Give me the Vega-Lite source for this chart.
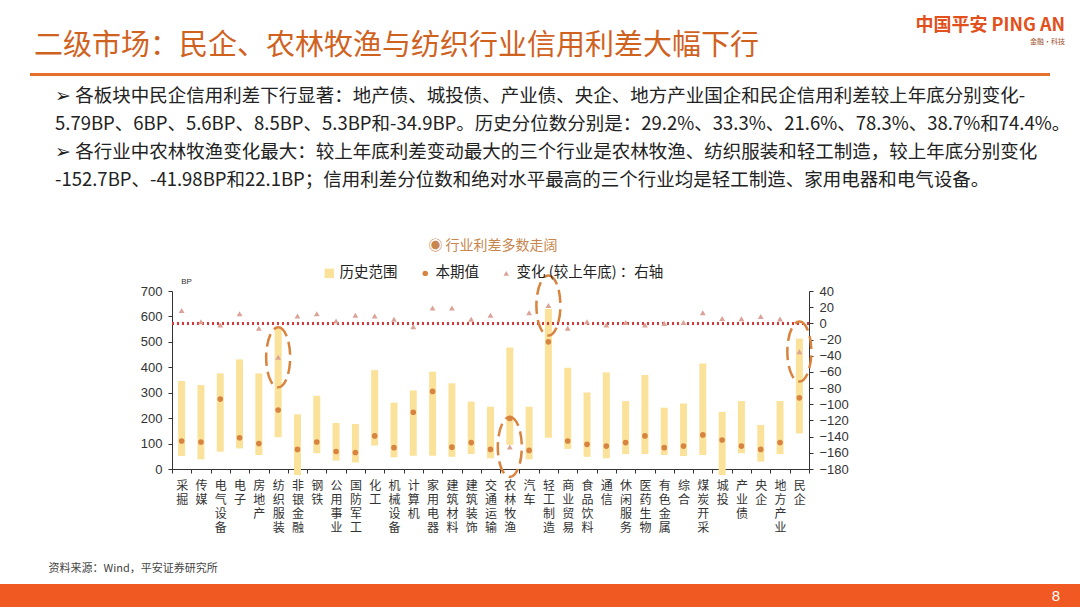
{
  "$schema": "https://vega.github.io/schema/vega-lite/v6.json",
  "padding": {"top": 17, "left": 0, "right": 0, "bottom": 0},
  "spacing": 11,
  "config": {
    "view": {"stroke": null}, "font": "Noto Sans CJK SC", "concat": {"spacing": 0},
    "axis": {"labelOverlap": false, "labelSeparation": 0},
    "axisY": {"labelOverlap": false, "labelSeparation": 0},
    "axisQuantitative": {"labelOverlap": false}
  },
  "datasets": {
    "spreads": [
      {"cat": "采掘", "low": 51, "high": 346, "cur": 110, "chg": 16, "highlight": false},
      {"cat": "传媒", "low": 38, "high": 330, "cur": 106, "chg": 2, "highlight": false},
      {"cat": "电气设备", "low": 68, "high": 376, "cur": 275, "chg": -2, "highlight": false},
      {"cat": "电子", "low": 81, "high": 431, "cur": 123, "chg": 12, "highlight": false},
      {"cat": "房地产", "low": 55, "high": 376, "cur": 100, "chg": -6, "highlight": false},
      {"cat": "纺织服装", "low": 125, "high": 553, "cur": 232, "chg": -41.98, "highlight": true},
      {"cat": "非银金融", "low": -24, "high": 215, "cur": 77, "chg": 9, "highlight": false},
      {"cat": "钢铁", "low": 62, "high": 288, "cur": 106, "chg": 12, "highlight": false},
      {"cat": "公用事业", "low": 33, "high": 181, "cur": 69, "chg": 3, "highlight": false},
      {"cat": "国防军工", "low": 26, "high": 177, "cur": 65, "chg": 10, "highlight": false},
      {"cat": "化工", "low": 92, "high": 389, "cur": 130, "chg": 9, "highlight": false},
      {"cat": "机械设备", "low": 46, "high": 261, "cur": 84, "chg": 5, "highlight": false},
      {"cat": "计算机", "low": 52, "high": 309, "cur": 223, "chg": -4, "highlight": false},
      {"cat": "家用电器", "low": 52, "high": 383, "cur": 305, "chg": 19, "highlight": false},
      {"cat": "建筑材料", "low": 48, "high": 337, "cur": 86, "chg": 19, "highlight": false},
      {"cat": "建筑装饰", "low": 59, "high": 265, "cur": 104, "chg": 5, "highlight": false},
      {"cat": "交通运输", "low": 42, "high": 245, "cur": 77, "chg": 10, "highlight": false},
      {"cat": "农林牧渔", "low": 95, "high": 478, "cur": 199, "chg": -152.7, "highlight": true},
      {"cat": "汽车", "low": 38, "high": 245, "cur": 73, "chg": 13, "highlight": false},
      {"cat": "轻工制造", "low": 123, "high": 629, "cur": 500, "chg": 22.1, "highlight": true},
      {"cat": "商业贸易", "low": 79, "high": 398, "cur": 110, "chg": -6, "highlight": false},
      {"cat": "食品饮料", "low": 48, "high": 301, "cur": 97, "chg": 2, "highlight": false},
      {"cat": "通信", "low": 42, "high": 380, "cur": 90, "chg": -2, "highlight": false},
      {"cat": "休闲服务", "low": 59, "high": 267, "cur": 104, "chg": 1, "highlight": false},
      {"cat": "医药生物", "low": 59, "high": 370, "cur": 130, "chg": -2, "highlight": false},
      {"cat": "有色金属", "low": 55, "high": 241, "cur": 84, "chg": 0, "highlight": false},
      {"cat": "综合", "low": 51, "high": 258, "cur": 90, "chg": 1, "highlight": false},
      {"cat": "煤炭开采", "low": 55, "high": 415, "cur": 134, "chg": 13, "highlight": false},
      {"cat": "城投", "low": -24, "high": 225, "cur": 114, "chg": 6, "highlight": false},
      {"cat": "产业债", "low": 62, "high": 267, "cur": 90, "chg": 5.6, "highlight": false},
      {"cat": "央企", "low": 29, "high": 173, "cur": 77, "chg": 8.5, "highlight": false},
      {"cat": "地方产业", "low": 59, "high": 267, "cur": 104, "chg": 5.3, "highlight": false},
      {"cat": "民企", "low": 140, "high": 513, "cur": 280, "chg": -34.9, "highlight": true}
    ]
  },
  "vconcat": [
    {
      "spacing": 0,
      "hconcat": [
        {"width": 30, "height": 3, "data": {"values": []}, "mark": "point", "encoding": {}},
        {
          "width": 870, "height": 3,
          "view": {"fill": "#e4702c"},
          "title": {"text": "二级市场：民企、农林牧渔与纺织行业信用利差大幅下行", "anchor": "start", "fontSize": 29, "fontWeight": "normal", "color": "#d0621f", "offset": 12, "dx": 4},
          "data": {"values": []}, "mark": "point", "encoding": {}
        },
        {
          "width": 150, "height": 3,
          "view": {"fill": "#e4702c"},
          "title": {"text": "中国平安 PING AN", "subtitle": "金融·科技", "anchor": "end", "fontSize": 18, "fontWeight": "bold", "color": "#e2501c", "subtitleFontSize": 7, "subtitleColor": "#a0522d", "subtitlePadding": 3, "offset": 28, "dx": 15},
          "data": {"values": []}, "mark": "point", "encoding": {}
        }
      ]
    },
    {
      "spacing": 0,
      "title": {
        "text": [
          "➢ 各板块中民企信用利差下行显著：地产债、城投债、产业债、央企、地方产业国企和民企信用利差较上年底分别变化-",
          "　5.79BP、6BP、5.6BP、8.5BP、5.3BP和-34.9BP。历史分位数分别是：29.2%、33.3%、21.6%、78.3%、38.7%和74.4%。",
          "➢ 各行业中农林牧渔变化最大：较上年底利差变动最大的三个行业是农林牧渔、纺织服装和轻工制造，较上年底分别变化",
          "　-152.7BP、-41.98BP和22.1BP；信用利差分位数和绝对水平最高的三个行业均是轻工制造、家用电器和电气设备。"
        ],
        "anchor": "start", "frame": "group", "fontSize": 18.5, "fontWeight": "normal", "color": "#222222", "lineHeight": 28, "dx": 55, "offset": 80.5
      },
      "hconcat": [
        {"width": 48, "height": 3, "data": {"values": []}, "mark": "point", "encoding": {}},
        {
          "width": 637, "height": 178,
          "data": {"name": "spreads"},
          "layer": [
            {
              "layer": [
                {
                  "mark": {"type": "bar", "width": 7},
                  "encoding": {
                    "x": {
                      "field": "cat", "type": "nominal", "sort": null,
                      "scale": {"paddingInner": 0, "paddingOuter": 0},
                      "axis": {
                        "title": "资料来源：Wind，平安证券研究所", "titleX": -124, "titleY": 99, "titleAlign": "left", "titleBaseline": "middle",
                        "titleFontSize": 11, "titleColor": "#444444", "titleFontWeight": "normal",
                        "labelAngle": 0, "labelExpr": "split(datum.label, '')", "labelFontSize": 12, "labelLineHeight": 14,
                        "labelColor": "#333333", "labelBaseline": "top", "labelPadding": 7, "labelOverlap": false,
                        "tickBand": "extent", "tickSize": 4, "tickColor": "#333333", "domainColor": "#333333"
                      }
                    },
                    "y": {
                      "field": "high", "type": "quantitative",
                      "scale": {"domain": [0, 700], "nice": false},
                      "axis": {
                        "title": "BP", "titleAngle": 0, "titleX": 14, "titleY": -6, "titleFontSize": 8, "titleFont": "Liberation Sans",
                        "titleFontWeight": "normal", "titleColor": "#333333", "titleAlign": "center", "titleBaseline": "bottom",
                        "values": [0, 100, 200, 300, 400, 500, 600, 700], "labelOverlap": false,
                        "labelFont": "Liberation Sans", "labelFontSize": 13, "labelColor": "#333333", "labelPadding": 6,
                        "tickSize": 4, "tickColor": "#333333", "domainColor": "#333333", "grid": false
                      }
                    },
                    "y2": {"field": "low"},
                    "color": {
                      "datum": "历史范围", "type": "nominal",
                      "scale": {"domain": ["历史范围", "本期值", "变化 (较上年底) ：右轴"], "range": ["#fbe29b", "#d6843f", "#dba398"]},
                      "legend": {
                        "orient": "none", "legendX": 322, "legendY": 166, "direction": "horizontal",
                        "title": "◉  行业利差多数走阔", "titleOrient": "top", "titleAnchor": "middle", "titleFontSize": 14,
                        "titleColor": "#c8864e", "titleFontWeight": "normal", "titlePadding": 13,
                        "labelFontSize": 14.5, "labelColor": "#222222", "labelOffset": 3, "columnPadding": 20,
                        "encode": {
                          "symbols": {
                            "update": {
                              "shape": {"signal": "datum.value === '历史范围' ? 'square' : datum.value === '本期值' ? 'circle' : 'triangle-up'"},
                              "size": {"signal": "datum.value === '历史范围' ? 90 : 30"}
                            }
                          }
                        }
                      }
                    }
                  }
                },
                {
                  "mark": {"type": "point", "filled": true, "size": 32, "opacity": 1},
                  "encoding": {
                    "x": {"field": "cat", "type": "nominal", "sort": null},
                    "y": {
                      "field": "cur", "type": "quantitative",
                      "axis": {
                        "title": "BP", "titleAngle": 0, "titleX": 14, "titleY": -6, "titleFontSize": 8, "titleFont": "Liberation Sans",
                        "titleFontWeight": "normal", "titleColor": "#333333", "titleAlign": "center", "titleBaseline": "bottom",
                        "values": [0, 100, 200, 300, 400, 500, 600, 700], "labelOverlap": false,
                        "labelFont": "Liberation Sans", "labelFontSize": 13, "labelColor": "#333333", "labelPadding": 6,
                        "tickSize": 4, "tickColor": "#333333", "domainColor": "#333333", "grid": false
                      }
                    },
                    "color": {"datum": "本期值", "type": "nominal"}
                  }
                }
              ]
            },
            {
              "layer": [
                {
                  "mark": {"type": "rule", "strokeDash": [2, 3], "strokeWidth": 2, "color": "#d43a3a"},
                  "encoding": {
                    "y": {
                      "datum": 0, "type": "quantitative",
                      "axis": {
                        "orient": "right", "title": null,
                        "values": [-180, -160, -140, -120, -100, -80, -60, -40, -20, 0, 20, 40], "labelOverlap": false,
                        "labelFont": "Liberation Sans", "labelFontSize": 13, "labelColor": "#333333", "labelPadding": 6,
                        "tickSize": 4, "tickColor": "#333333", "domainColor": "#333333", "grid": false
                      }
                    }
                  }
                },
                {
                  "mark": {"type": "point", "shape": "triangle-up", "filled": true, "size": 34, "opacity": 1},
                  "encoding": {
                    "x": {"field": "cat", "type": "nominal", "sort": null},
                    "y": {
                      "field": "chg", "type": "quantitative",
                      "scale": {"domain": [-180, 40], "nice": false},
                      "axis": {
                        "orient": "right", "title": null,
                        "values": [-180, -160, -140, -120, -100, -80, -60, -40, -20, 0, 20, 40], "labelOverlap": false,
                        "labelFont": "Liberation Sans", "labelFontSize": 13, "labelColor": "#333333", "labelPadding": 6,
                        "tickSize": 4, "tickColor": "#333333", "domainColor": "#333333", "grid": false
                      }
                    },
                    "color": {"datum": "变化 (较上年底) ：右轴", "type": "nominal"}
                  }
                },
                {
                  "transform": [{"filter": "datum.highlight"}],
                  "mark": {"type": "point", "shape": "M0,-1A0.4,1 0 1,1 0,1A0.4,1 0 1,1 0,-1Z", "size": 3600, "filled": false, "color": "#d8843e", "strokeWidth": 2.5, "strokeDash": [13, 6], "opacity": 1},
                  "encoding": {
                    "x": {"field": "cat", "type": "nominal", "sort": null},
                    "y": {
                      "field": "chg", "type": "quantitative",
                      "axis": {
                        "orient": "right", "title": null,
                        "values": [-180, -160, -140, -120, -100, -80, -60, -40, -20, 0, 20, 40], "labelOverlap": false,
                        "labelFont": "Liberation Sans", "labelFontSize": 13, "labelColor": "#333333", "labelPadding": 6,
                        "tickSize": 4, "tickColor": "#333333", "domainColor": "#333333", "grid": false
                      }
                    }
                  }
                }
              ]
            }
          ],
          "resolve": {"scale": {"y": "independent"}}
        }
      ]
    },
    {
      "width": 1080, "height": 23,
      "view": {"fill": "#f05a22"},
      "data": {"values": [{"page": "8"}]},
      "mark": {"type": "text", "align": "right", "baseline": "middle", "color": "#ffffff", "fontSize": 15, "font": "Liberation Sans", "dx": -20},
      "encoding": {"text": {"field": "page", "type": "nominal"}, "x": {"value": "width"}}
    }
  ]
}
